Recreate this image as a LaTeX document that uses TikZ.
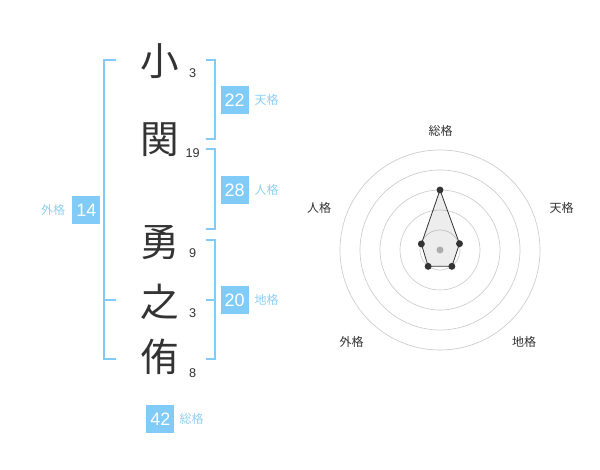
\documentclass[tikz,border=0pt]{standalone}
\usepackage{fontspec}
\setmainfont{Liberation Sans}
\newfontfamily\jpfont{Noto Sans CJK JP}
\usetikzlibrary{positioning}
\definecolor{Sky}{HTML}{80CBF8}
\definecolor{SkyText}{HTML}{8DD0F5}
\definecolor{Ink}{HTML}{333333}
\definecolor{Ring}{HTML}{CCCCCC}

\begin{document}
\begin{tikzpicture}[x=0.75pt,y=-0.75pt,
        kanji/.style={font=\jpfont\fontsize{29}{29}\selectfont,text=Ink,inner sep=0pt},
        strokes/.style={font=\fontsize{9.5}{10}\selectfont,text=Ink,inner sep=0pt},
        score/.style={fill=Sky,text=white,minimum size=21pt,inner sep=0pt,
          font=\fontsize{13.5}{14}\selectfont},
        kaku/.style={text=SkyText,font=\jpfont\fontsize{9}{10}\selectfont,inner sep=0pt},
        bracket/.style={draw=Sky,line width=1.5pt},
        axis/.style={font=\jpfont\fontsize{9}{10}\selectfont,text=Ink,inner sep=0pt},
        ring/.style={draw=Ring,line width=0.5pt},
        dot/.style={fill=Ink}]
        \useasboundingbox (0,0) rectangle (600,470);
        % name, one character per row
        \node[kanji] (k1) at (160,61) {小};
        \node[kanji] (k2) at (160,140) {関};
        \node[kanji] (k3) at (160,243) {勇};
        \node[kanji] (k4) at (160,302) {之};
        \node[kanji] (k5) at (160,357) {侑};
        \node[strokes] (n1) at (192.7,73) {3};
        \node[strokes] (n2) at (192.7,153) {19};
        \node[strokes] (n3) at (192.7,253) {9};
        \node[strokes] (n4) at (192.7,313) {3};
        \node[strokes] (n5) at (192.7,373) {8};
        % brackets
        \draw[bracket] (116,60) -- (104,60) -- (104,359.5) -- (116,359.5);
        \draw[bracket] (104,300) -- (116,300);
        \draw[bracket] (206,60) -- (215,60) -- (215,139.5) -- (206,139.5);
        \draw[bracket] (206,149.5) -- (215,149.5) -- (215,229.5) -- (206,229.5);
        \draw[bracket] (206,240) -- (215,240) -- (215,359.5) -- (206,359.5);
        \draw[bracket] (206,300) -- (215,300);
        % scores
        \node[score] (ten) at (234.7,100.3) {22};
        \node[kaku,right=4pt of ten] {天格};
        \node[score] (jin) at (234.7,190) {28};
        \node[kaku,right=4pt of jin] {人格};
        \node[score] (chi) at (234.7,300.3) {20};
        \node[kaku,right=4pt of chi] {地格};
        \node[score] (gai) at (86.3,210.3) {14};
        \node[kaku,left=5pt of gai] {外格};
        \node[score] (sou) at (160.3,419.2) {42};
        \node[kaku,right=3.5pt of sou] {総格};
        % radar chart
        \begin{scope}[shift={(440,250)},y=0.75pt]
          \foreach \r in {20,40,60,80,100}
            \draw[ring] (0,0) circle[radius=\r];
          \coordinate (pSou) at (90:60);
          \coordinate (pTen) at (18:20.5);
          \coordinate (pChi) at (-54:20.2);
          \coordinate (pGai) at (-126:20.2);
          \coordinate (pJin) at (162:19.6);
          \fill[Ring!90!black] (0,0) circle[radius=2.6pt];
          \draw[Ink,line width=0.6pt,fill=black,fill opacity=0.07]
            (pSou) -- (pTen) -- (pChi) -- (pGai) -- (pJin) -- cycle;
          \foreach \p in {pSou,pTen,pChi,pGai,pJin}
            \fill[dot] (\p) circle[radius=2.6pt];
        \end{scope}
        \node[axis] (aSou) at (440.7,130.7) {総格};
        \node[axis] (aTen) at (561.7,208.3) {天格};
        \node[axis] (aChi) at (524,341.7) {地格};
        \node[axis] (aGai) at (351.7,341.7) {外格};
        \node[axis] (aJin) at (319,208.3) {人格};
      \end{tikzpicture}
\end{document}
